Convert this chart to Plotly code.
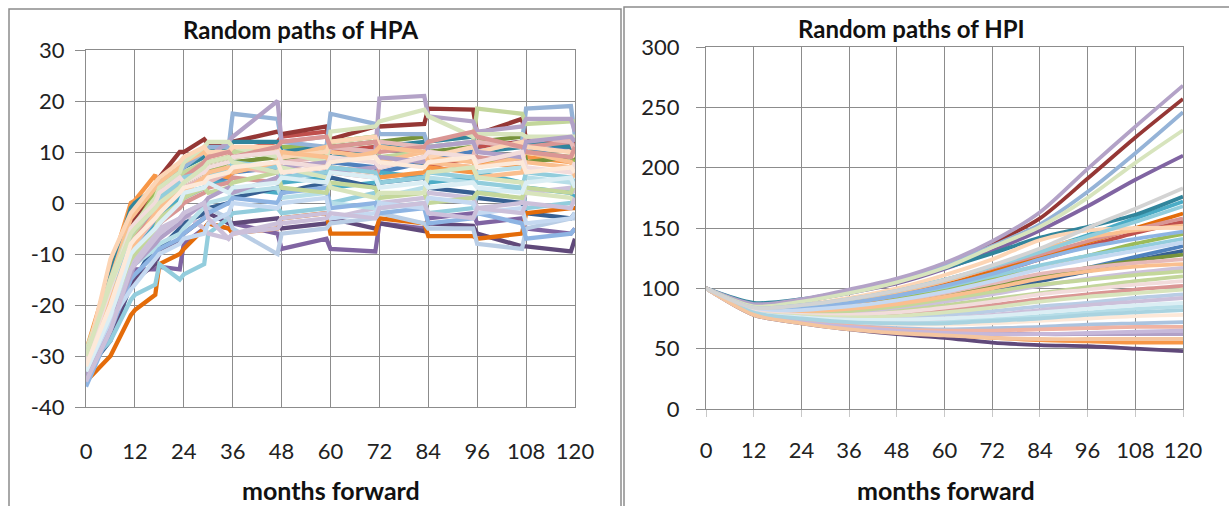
import plotly.graph_objects as go

# ---------------------------------------------------------------- data
# HPA (annualised house-price appreciation, %) simulated paths.
# Points are the months where a path changes slope; semi-annual resets in
# the first three years, annual resets afterwards.
HPA_MONTHS = [0, 6, 11, 12, 17, 18, 23, 24, 29, 30, 35, 36,
              47, 48, 59, 60, 71, 72, 83, 84, 95, 96, 107, 108, 119, 120]

HPA_PATHS = [
    [-34, -22, -11, -10, -5, -4, 0, 1, 3, 4, 5, 6, 7, 5, 6, 8, 7, 6, 8, 9, 10, 11, 12, 10, 11, 12],
    [-31, -18, -6, -5, 1, 2, 5, 6, 7, 8, 9, 10, 12, 13, 14, 10, 11, 9, 8, 7, 9, 11, 12, 13, 11, 9],
    [-30, -16, -4, -3, 2, 3, 6, 5, 7, 6, 8, 9, 10, 11, 11, 12, 13, 9, 8, 6, 7, 8, 9, 10, 9, 8],
    [-35, -24, -14, -13, -13, -12.5, -13, -8, -5, -4, -5, -4, -6, -9, -7, -9, -9.5, -4, -5, -3, -2, -4, -3, -5, -6, -5],
    [-32, -20, -10, -9, -4, -3, 1, 2, 3, 4, 4, 3, 2, 4, 5, 3, 4, 6, 5, 4, 5, 6, 4, 3, 2, 1],
    [-29, -13, 0, 0.5, 5.5, 2, 4, 5, 6, 6, 5, 6, 8, 7, 8, 7, 6, 5, 6, 7, 6, 8, 7, 9, 8, 6],
    [-33, -27, -16, -15, -8, -9, -5, -4, -2, -1, 0, 1, 3, 2, 4, 5, 3, 4, 5, 3, 2, 1, 0, -2, -3, -2],
    [-31, -16, -4, -3, 4, 5, 10, 10, 12.5, 11.5, 11, 12, 14, 13.5, 15, 12.5, 15, 15, 15.5, 18.5, 18.3, 13.5, 16.5, 12.5, 12, 12],
    [-31, -19, -7, -6, -1, 0, 3, 4, 6, 7, 8, 8, 9, 8, 10, 11, 12, 12, 13, 10, 11, 12, 13, 8, 9, 9],
    [-34, -26, -16, -15, -12, -10, -7, -6, -3, -2, -4, -4, -3, -5, -4, -3, -5, -4, -5.5, -4, -4.5, -6, -8.5, -8.5, -9.5, -7],
    [-30, -14, -1, 0, 3, 4, 7, 7, 9, 10, 11, 12, 12, 10, 11, 9, 10, 11, 12, 12, 13, 10, 11, 12, 11, 10],
    [-35, -30, -22, -21, -18, -12, -10, -9, -5, -4, -5, -6, -5, -3, -2, -6, -6, -3, -4, -6.5, -6.5, -7, -6, -2, -1, -1],
    [-32, -19, -8, -7, -1, 0, 6, 7, 10, 11, 11, 17.5, 16.5, 12, 11, 17.5, 15.5, 13.5, 13.5, 11, 12, 10, 12, 18.5, 19, 13],
    [-33, -21, -10, -9, -6, -4, -1, 0, 2, 3, 4, 5, 4, 6, 7, 6, 5, 7, 9, 8, 7, 9, 8, 11, 12, 11],
    [-30, -18, -7, -6, 0, 1, 5, 6, 8, 8, 9, 10, 11, 9, 10, 12, 13, 9, 10, 11, 12, 18.5, 17.5, 15.5, 16, 16],
    [-33, -20, -9, -8, -3, -2, 3, 4, 8, 9, 12, 13, 20, 12, 13, 11, 10, 20.5, 21, 17, 16, 14, 15, 16.5, 16.5, 14],
    [-32, -27, -19, -18, -16, -12, -15, -14, -12, -6, -3, -2, -1, -2, -1, 0, 2, -1, 0, -2, -1, 2, 3, -1, 0, 1],
    [-31, -15, -3, -2, 3, 4, 7, 8, 10, 9, 10, 11, 10, 9, 11, 10, 9, 8, 10, 9, 8, 7, 9, 10, 8, 7],
    [-33, -22, -12, -11, -7, -6, -3, -2, 0, -1, -3, -5, -10, -6, -5, -4, -3, -2, -4, -5, -5, -8, -9, -5, -3, -3],
    [-32, -20, -9, -8, -3, -2, 2, 3, 5, 4, 6, 7, 6, 8, 9, 11, 10, 12, 11, 10, 9, 12, 11, 13, 12, 10],
    [-29, -15, -5, -4, 1, 3, 6, 8, 11, 12, 12, 11, 9, 10, 8, 14, 15, 16, 18.3, 17, 13, 13.5, 13.5, 13, 13, 13],
    [-34, -23, -12, -11, -6, -5, -3, -2, -5, -6, -7, -6, -4, -3, -2, -3, -1, 0, 1, 2, 1, -1, 0, 2, 3, 2],
    [-33, -22, -13, -12, -9, -8, -6, -5, -1, 0, 1, 2, 3, 1, 2, 0, -1, 1, 3, 5, 4, 6, 7, 5, 4, 3],
    [-31, -11, -2, -1, 4, 5, 8, 9, 11, 10, 10, 11, 11, 9, 10, 12, 13, 11, 10, 9, 11, 10, 12, 11, 10, 9],
    [-36, -25, -15, -14, -10, -9, -7, -6, -3, -2, 0, 1, 0, 2, 3, -1, 0, -2, -1, -4, -3, -2, -4, -7, -6, -5],
    [-32, -20, -8, -7, -2, 0, 4, 5, 8, 9, 10, 9, 11, 12, 13, 11, 12, 10, 11, 12, 14, 13, 11, 10, 9, 11],
    [-33, -21, -11, -10, -5, -3, 0, 1, 3, 2, 3, 4, 6, 3, 2, 4, 3, 1, 2, 0, 1, 2, 1, 3, 2, 4],
    [-34, -24, -14, -12, -8, -7, -4, -3, 0, 1, 3, 2, 5, 7, 8, 6, 7, 9, 8, 11, 12, 10, 9, 12, 13, 12],
    [-30, -17, -6, -5, -1, 1, 4, 5, 6, 5, 7, 8, 7, 5, 6, 7, 6, 4, 5, 6, 5, 4, 3, 6, 5, 4],
    [-32, -19, -9, -8, -2, -1, 3, 2, 5, 6, 7, 6, 8, 10, 9, 8, 10, 11, 10, 8, 7, 5, 6, 8, 7, 5],
    [-33, -23, -17, -16, -11, -10, -8, -7, -6, -4, -2, 0, -1, 0, 1, -3, -2, 0, -1, 1, 0, -2, -1, -4, -3, -2],
    [-31, -17, -5, -4, 0, 2, 5, 4, 6, 7, 8, 9, 10, 8, 7, 9, 8, 7, 9, 10, 9, 8, 10, 7, 6, 8],
    [-30, -16, -6, -5, -1, 0, 3, 4, 7, 8, 9, 8, 6, 7, 5, 3, 1, 2, 2, 6, 7, 5, 4, 2, 1, 0],
    [-35, -25, -13, -12, -7, -6, -3, -2, 0, -3, -7, -6, -5, -4, -3, -2, -3, -1, 0, -2, -3, -1, -2, 0, -1, 1],
    [-33, -22, -10, -9, -5, -4, 0, 2, 3, 4, 2, 3, 4, 5, 4, 6, 5, 3, 4, 3, 4, 3, 2, 4, 5, 3],
    [-32, -20, -8, -7, -3, -2, 2, 3, 4, 5, 6, 7, 8, 6, 7, 8, 9, 8, 7, 8, 9, 7, 8, 6, 7, 6],
]

# HPI (house-price index, start = 100) simulated paths, read every 12 months.
HPI_MONTHS = [0, 12, 24, 36, 48, 60, 72, 84, 96, 108, 120]

HPI_PATHS = [
    [100, 82, 80, 82, 86, 92, 99, 108, 117, 126, 135],
    [100, 83, 84, 88, 94, 102, 112, 124, 135, 146, 155],
    [100, 82, 82, 86, 92, 99, 108, 118, 127, 137, 145],
    [100, 85, 89, 96, 104, 116, 131, 148, 168, 190, 210],
    [100, 84, 86, 91, 98, 107, 118, 131, 144, 158, 172],
    [100, 79, 72, 67, 63, 61, 59, 57, 56, 55, 55],
    [100, 81, 79, 81, 85, 91, 98, 106, 114, 123, 131],
    [100, 86, 90, 98, 107, 120, 137, 158, 191, 225, 257],
    [100, 82, 81, 84, 89, 95, 102, 110, 117, 123, 128],
    [100, 78, 71, 66, 62, 59, 55, 53, 52, 50, 48],
    [100, 88, 91, 98, 107, 117, 129, 142, 151, 161, 176],
    [100, 82, 83, 87, 94, 103, 114, 126, 138, 150, 162],
    [100, 86, 90, 97, 106, 119, 135, 153, 180, 212, 246],
    [100, 83, 85, 90, 97, 106, 117, 128, 139, 149, 158],
    [100, 81, 78, 79, 82, 86, 91, 96, 101, 106, 110],
    [100, 87, 91, 99, 108, 121, 139, 163, 199, 234, 268],
    [100, 83, 84, 88, 94, 101, 110, 119, 127, 134, 141],
    [100, 83, 85, 90, 97, 106, 118, 132, 142, 148, 152],
    [100, 80, 76, 75, 76, 78, 81, 85, 88, 92, 95],
    [100, 82, 81, 84, 89, 96, 104, 112, 117, 121, 124],
    [100, 85, 89, 96, 105, 117, 134, 151, 175, 204, 231],
    [100, 81, 79, 80, 84, 89, 95, 102, 108, 113, 117],
    [100, 80, 75, 73, 72, 73, 75, 77, 80, 83, 85],
    [100, 84, 86, 92, 100, 111, 124, 140, 148, 150, 150],
    [100, 83, 84, 88, 94, 102, 112, 124, 134, 141, 147],
    [100, 80, 77, 77, 79, 82, 86, 91, 95, 99, 102],
    [100, 81, 79, 81, 85, 91, 97, 103, 107, 111, 114],
    [100, 79, 72, 68, 66, 64, 63, 62, 62, 62, 62],
    [100, 84, 86, 91, 98, 107, 118, 130, 143, 155, 168],
    [100, 82, 81, 83, 87, 93, 100, 108, 114, 118, 120],
    [100, 82, 82, 85, 90, 97, 106, 116, 124, 131, 138],
    [100, 81, 78, 78, 80, 84, 89, 95, 99, 103, 106],
    [100, 80, 77, 76, 77, 80, 84, 89, 93, 96, 99],
    [100, 80, 76, 74, 74, 75, 78, 82, 86, 89, 92],
    [100, 80, 76, 74, 74, 75, 77, 80, 83, 86, 88],
    [100, 79, 74, 71, 70, 70, 71, 73, 75, 77, 78],
    [100, 79, 73, 69, 67, 66, 67, 68, 70, 71, 72],
    [100, 79, 73, 69, 66, 65, 65, 66, 67, 68, 68],
    [100, 79, 72, 68, 65, 63, 62, 62, 63, 64, 65],
    [100, 80, 75, 72, 71, 71, 73, 75, 78, 80, 82],
    [100, 78, 71, 66, 63, 61, 59, 58, 58, 58, 58],
    [100, 84, 86, 91, 98, 107, 119, 133, 150, 166, 183],
]

MONTH_TICKS = [0, 12, 24, 36, 48, 60, 72, 84, 96, 108, 120]
HPA_TICKS = [-40, -30, -20, -10, 0, 10, 20, 30]
HPA_TICK_TEXT = ["-40", "-30", "-20", "-10", "0", "10", "20", "30"]
HPI_TICKS = [0, 50, 100, 150, 200, 250, 300]

# ---------------------------------------------------------------- style
PALETTE = [
    "#4F81BD", "#C0504D", "#9BBB59", "#8064A2", "#4BACC6", "#F79646",
    "#376092", "#953735", "#77933C", "#60497A", "#31859C", "#E46C0A",
    "#95B3D7", "#D99694", "#C3D69B", "#B3A2C7", "#93CDDD", "#FAC090",
    "#B9CDE5", "#E6B9B8", "#D7E4BD", "#CCC1DA", "#B7DEE8", "#FCD5B5",
    "#8EB4E3", "#DA9694", "#C4D79B", "#B1A0C7", "#92CDDC", "#FABF8F",
    "#C5D9F1", "#F2DCDB", "#D8E4BC", "#CCC0DA", "#DBEEF4", "#FDE9D9",
    "#ABC3DF", "#F0B3A3", "#C6B8DA", "#A9D3E0", "#F4C59F", "#D3D3D3",
]
FONT = "Lato, 'Open Sans', sans-serif"
GRID = "#8C8C8C"
W, H = 1229, 506


def px_x(p):
    return p / W


def px_y(p):
    return 1 - p / H


fig = go.Figure()

for i, path in enumerate(HPA_PATHS):
    fig.add_trace(go.Scatter(
        x=HPA_MONTHS, y=path, mode="lines", xaxis="x", yaxis="y",
        line=dict(color=PALETTE[i % len(PALETTE)], width=4.3),
        showlegend=False, hoverinfo="skip"))

for i, path in enumerate(HPI_PATHS):
    fig.add_trace(go.Scatter(
        x=HPI_MONTHS, y=path, mode="lines", xaxis="x2", yaxis="y2",
        line=dict(color=PALETTE[i % len(PALETTE)], width=3.8,
                  shape="spline", smoothing=0.8),
        showlegend=False, hoverinfo="skip"))

tick_font = dict(family=FONT, size=22, color="#222222")

axis_common = dict(showgrid=True, gridcolor=GRID, gridwidth=1.3,
                   zeroline=False, showline=True, mirror=True,
                   linecolor=GRID, linewidth=1.3, tickfont=tick_font,
                   automargin=False)

fig.update_layout(
    template="none",
    width=W, height=H,
    margin=dict(l=0, r=0, t=0, b=0, pad=0),
    paper_bgcolor="white", plot_bgcolor="white",
    xaxis=dict(domain=[px_x(86), px_x(575)], range=[0, 120],
               tickvals=MONTH_TICKS, ticks="", ticklabelstandoff=24,
               anchor="y", **axis_common),
    yaxis=dict(domain=[px_y(407), px_y(50)], range=[-40, 30],
               tickvals=HPA_TICKS, ticktext=HPA_TICK_TEXT,
               ticks="outside", ticklen=10,
               tickcolor=GRID, tickwidth=1.3, ticklabelstandoff=6,
               anchor="x", **axis_common),
    xaxis2=dict(domain=[px_x(706), px_x(1183)], range=[0, 120],
                tickvals=MONTH_TICKS, ticks="outside", ticklen=7,
                tickcolor="#C8C8C8", tickwidth=1.3, ticklabelstandoff=14,
                anchor="y2", **axis_common),
    yaxis2=dict(domain=[px_y(409), px_y(47)], range=[0, 300],
                tickvals=HPI_TICKS, ticks="outside", ticklen=9,
                tickcolor=GRID, tickwidth=1.3, ticklabelstandoff=12,
                anchor="x2", **axis_common),
)

title_font = dict(family=FONT, size=24, color="#111111")
label_font = dict(family=FONT, size=25, color="#111111")

annotations = [
    dict(text="<b>Random paths of HPA</b>", x=px_x(300), y=px_y(30), font=title_font),
    dict(text="<b>Random paths of HPI</b>", x=px_x(911), y=px_y(28), font=title_font),
    dict(text="<b>months forward</b>", x=px_x(331), y=px_y(490), font=label_font),
    dict(text="<b>months forward</b>", x=px_x(946), y=px_y(490), font=label_font),
]
for a in annotations:
    fig.add_annotation(xref="paper", yref="paper", showarrow=False,
                       xanchor="center", yanchor="middle", **a)

# chart-area frames around each panel
frame = dict(color="#8C8C8C", width=1.5)
fig.add_shape(type="rect", xref="paper", yref="paper",
              x0=px_x(9), x1=px_x(621), y0=px_y(9), y1=px_y(520), line=frame)
fig.add_shape(type="rect", xref="paper", yref="paper",
              x0=px_x(624), x1=px_x(1240), y0=px_y(7), y1=px_y(520), line=frame)

fig.write_html("out.html")
